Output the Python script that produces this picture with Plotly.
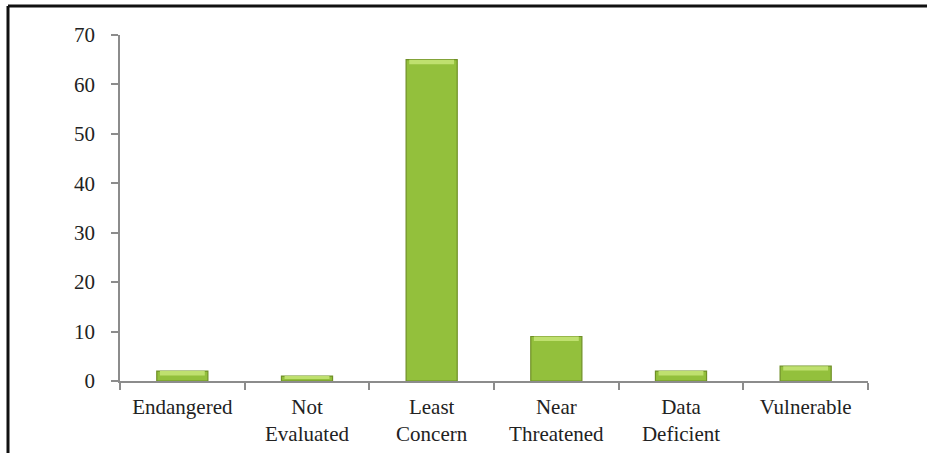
import plotly.graph_objects as go

# IUCN conservation status counts
categories = ["Endangered", "Not<br>Evaluated", "Least<br>Concern",
              "Near<br>Threatened", "Data<br>Deficient", "Vulnerable"]
counts = [2, 1, 65, 9, 2, 3]
y_ticks = [0, 10, 20, 30, 40, 50, 60, 70]

W, H = 927, 453
ML, MR, MT, MB = 120, 59, 35, 72
plot_w = W - ML - MR
plot_h = H - MT - MB

serif = "'Times New Roman', 'Liberation Serif', 'DejaVu Serif', serif"

fig = go.Figure()

# main bar body
fig.add_trace(go.Bar(
    x=categories, y=counts, width=0.41,
    marker=dict(color="#93c03c", line=dict(color="#6f8f27", width=1.2)),
    hoverinfo="x+y", showlegend=False,
))

# lighter bevel band along the top of each bar
band = [min(0.9, v * 0.6) for v in counts]
fig.add_trace(go.Bar(
    x=categories, y=band, base=[v - b for v, b in zip(counts, band)],
    width=0.36,
    marker=dict(color="#bfe06f", line=dict(width=0)),
    hoverinfo="skip", showlegend=False,
))

# outer black frame (top and left edges)
def px_to_paper_x(px):
    return (px - ML) / plot_w

def px_to_paper_y(py):
    return (H - MB - py) / plot_h

frame = dict(type="line", xref="paper", yref="paper",
             line=dict(color="#111111", width=3))
fig.add_shape(**frame, x0=px_to_paper_x(8), x1=px_to_paper_x(W + 5),
              y0=px_to_paper_y(6), y1=px_to_paper_y(6))
fig.add_shape(**frame, x0=px_to_paper_x(8), x1=px_to_paper_x(8),
              y0=px_to_paper_y(6), y1=px_to_paper_y(H + 5))

fig.update_layout(
    width=W, height=H,
    margin=dict(l=ML, r=MR, t=MT, b=MB, pad=0),
    paper_bgcolor="white", plot_bgcolor="white",
    barmode="overlay",
    font=dict(family=serif, size=21, color="#222222"),
    xaxis=dict(
        type="category", showgrid=False, zeroline=False, automargin=False,
        showline=True, linecolor="#8c8c8c", linewidth=1.5,
        ticks="outside", tickson="boundaries", ticklen=7,
        tickcolor="#8c8c8c", tickwidth=1.5,
        ticklabelstandoff=6,
        tickfont=dict(family=serif, size=21, color="#222222"),
    ),
    yaxis=dict(
        range=[0, 70], tickvals=y_ticks, showgrid=False, zeroline=False,
        automargin=False,
        showline=True, linecolor="#8c8c8c", linewidth=1.5,
        ticks="outside", ticklen=7, tickcolor="#8c8c8c", tickwidth=1.5,
        ticklabelstandoff=12,
        tickfont=dict(family=serif, size=21, color="#222222"),
    ),
)

fig.write_html("out.html")
